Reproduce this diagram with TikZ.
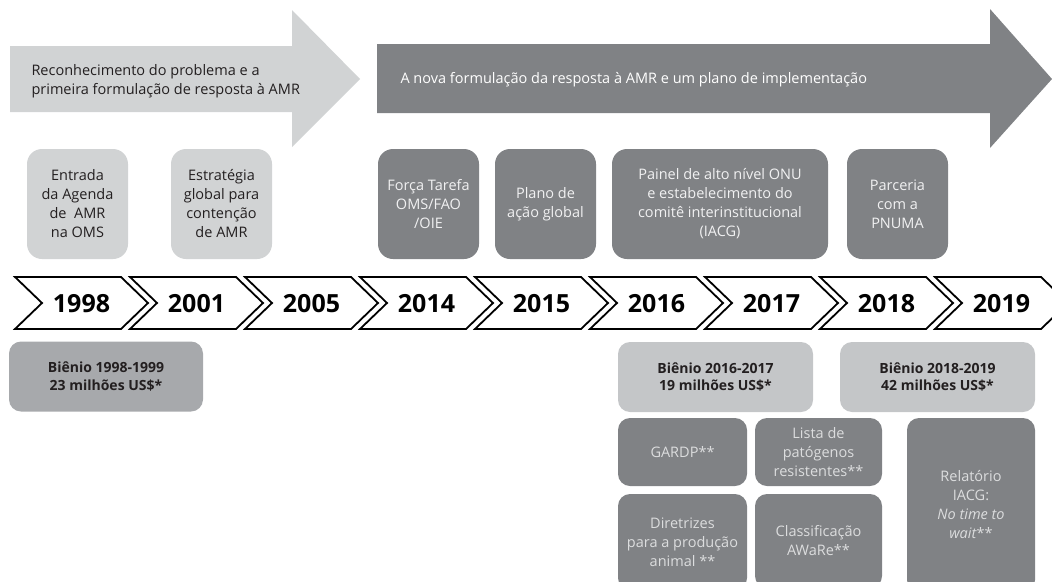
\documentclass[tikz,border=0pt]{standalone}
\usepackage{fontspec}
\setmainfont{Open Sans}
\definecolor{lightg}{HTML}{D1D3D4}
\definecolor{bieng}{HTML}{C4C6C8}
\definecolor{darkg}{HTML}{808285}
\definecolor{midg}{HTML}{A7A9AC}
\definecolor{ink}{HTML}{231F20}
\definecolor{pale}{HTML}{F1F1F2}
\definecolor{palelow}{HTML}{DCDDDE}
\begin{document}
\begin{tikzpicture}[x=1pt,y=-1pt,
  txt/.style={font=\fontsize{14.5}{19}\selectfont},
  ubox/.style={txt, rounded corners=15pt, minimum width=101pt, minimum height=110pt, inner sep=0pt, align=center},
  ulight/.style={ubox, fill=lightg, text=ink},
  udark/.style={ubox, fill=darkg, text=pale},
  bien/.style={rounded corners=12pt, fill=midg, text=ink, inner sep=0pt, minimum height=70pt, align=center, font=\fontsize{14}{17.5}\selectfont\bfseries},
  bienlight/.style={bien, fill=bieng},
  lbox/.style={txt, rounded corners=12pt, fill=darkg, text=palelow, inner sep=0pt, align=center},
  chev/.style={draw=black, fill=white, line width=1.8pt, line join=miter},
  yearlbl/.style={font=\fontsize{25}{25}\selectfont\bfseries, text=black, inner sep=0pt}]
\useasboundingbox (0,0) rectangle (1052,581);
\clip (0,0) rectangle (1052,581);

% big arrows
\fill[lightg] (10,46) -- (292,46) -- (292,10) -- (360,79) -- (292,147) -- (292,112) -- (10,112) -- cycle;
\fill[darkg] (377,44) -- (990,44) -- (990,9) -- (1052,79) -- (990,148) -- (990,113) -- (377,113) -- cycle;
\node[txt, anchor=west, align=left, text=ink, font=\fontsize{14.5}{18.5}\selectfont] (phase1) at (28,81)
  {Reconhecimento do problema e a\\primeira formulação de resposta à AMR};
\node[txt, anchor=west, text=white] (phase2) at (397,80)
  {A nova formulação da resposta à AMR e um plano de implementação};

% upper boxes
\node[ulight] (b1998) at (77.5,204) {Entrada\\da Agenda\\de~~AMR\\na OMS};
\node[ulight] (b2001) at (221.5,204) {Estratégia\\global para\\contenção\\de AMR};
\node[udark] (b2014) at (428.5,204) {Força Tarefa\\OMS/FAO\\/OIE};
\node[udark] (b2015) at (545.5,204) {Plano de\\ação global};
\node[udark, minimum width=216pt] (b2016) at (720,204) {Painel de alto nível ONU\\e estabelecimento do\\comitê interinstitucional\\(IACG)};
\node[udark] (b2018) at (897.5,204) {Parceria\\com a\\PNUMA};

% timeline chevrons
\foreach \yr [count=\i from 0] in {1998,2001,2005,2014,2015,2016,2017,2018,2019} {
  \pgfmathsetmacro{\xo}{15+115*\i}
  \draw[chev] (\xo,277) -- ++(106,0) -- ++(27,26) -- ++(-27,26) -- ++(-106,0) -- ++(27,-26) -- cycle;
  \node[yearlbl] (y\yr) at (\xo+66.5,304) {\yr};
}

% biennium boxes
\node[bien, minimum width=194pt] (bi98) at (106,376.5) {Biênio 1998-1999\\23 milhões US\$*};
\node[bienlight, minimum width=195pt] (bi16) at (715.5,377) {Biênio 2016-2017\\19 milhões US\$*};
\node[bienlight, minimum width=195pt] (bi18) at (937.5,377) {Biênio 2018-2019\\42 milhões US\$*};

% lower outputs
\node[lbox, minimum width=129pt, minimum height=68pt] (gardp) at (682.5,452) {GARDP**};
\node[lbox, minimum width=127pt, minimum height=68pt] (lista) at (818.5,452) {Lista de\\patógenos\\resistentes**};
\node[lbox, minimum width=129pt, minimum height=96pt] (dir) at (682.5,542) {Diretrizes\\para a produção\\animal **};
\node[lbox, minimum width=127pt, minimum height=94pt] (aware) at (818.5,541) {Classificação\\AWaRe**};
\node[lbox, minimum width=128pt, minimum height=174pt] (iacg) at (971,505) {Relatório\\IACG:\\\textit{No time to}\\\textit{wait}**};
\end{tikzpicture}
\end{document}
